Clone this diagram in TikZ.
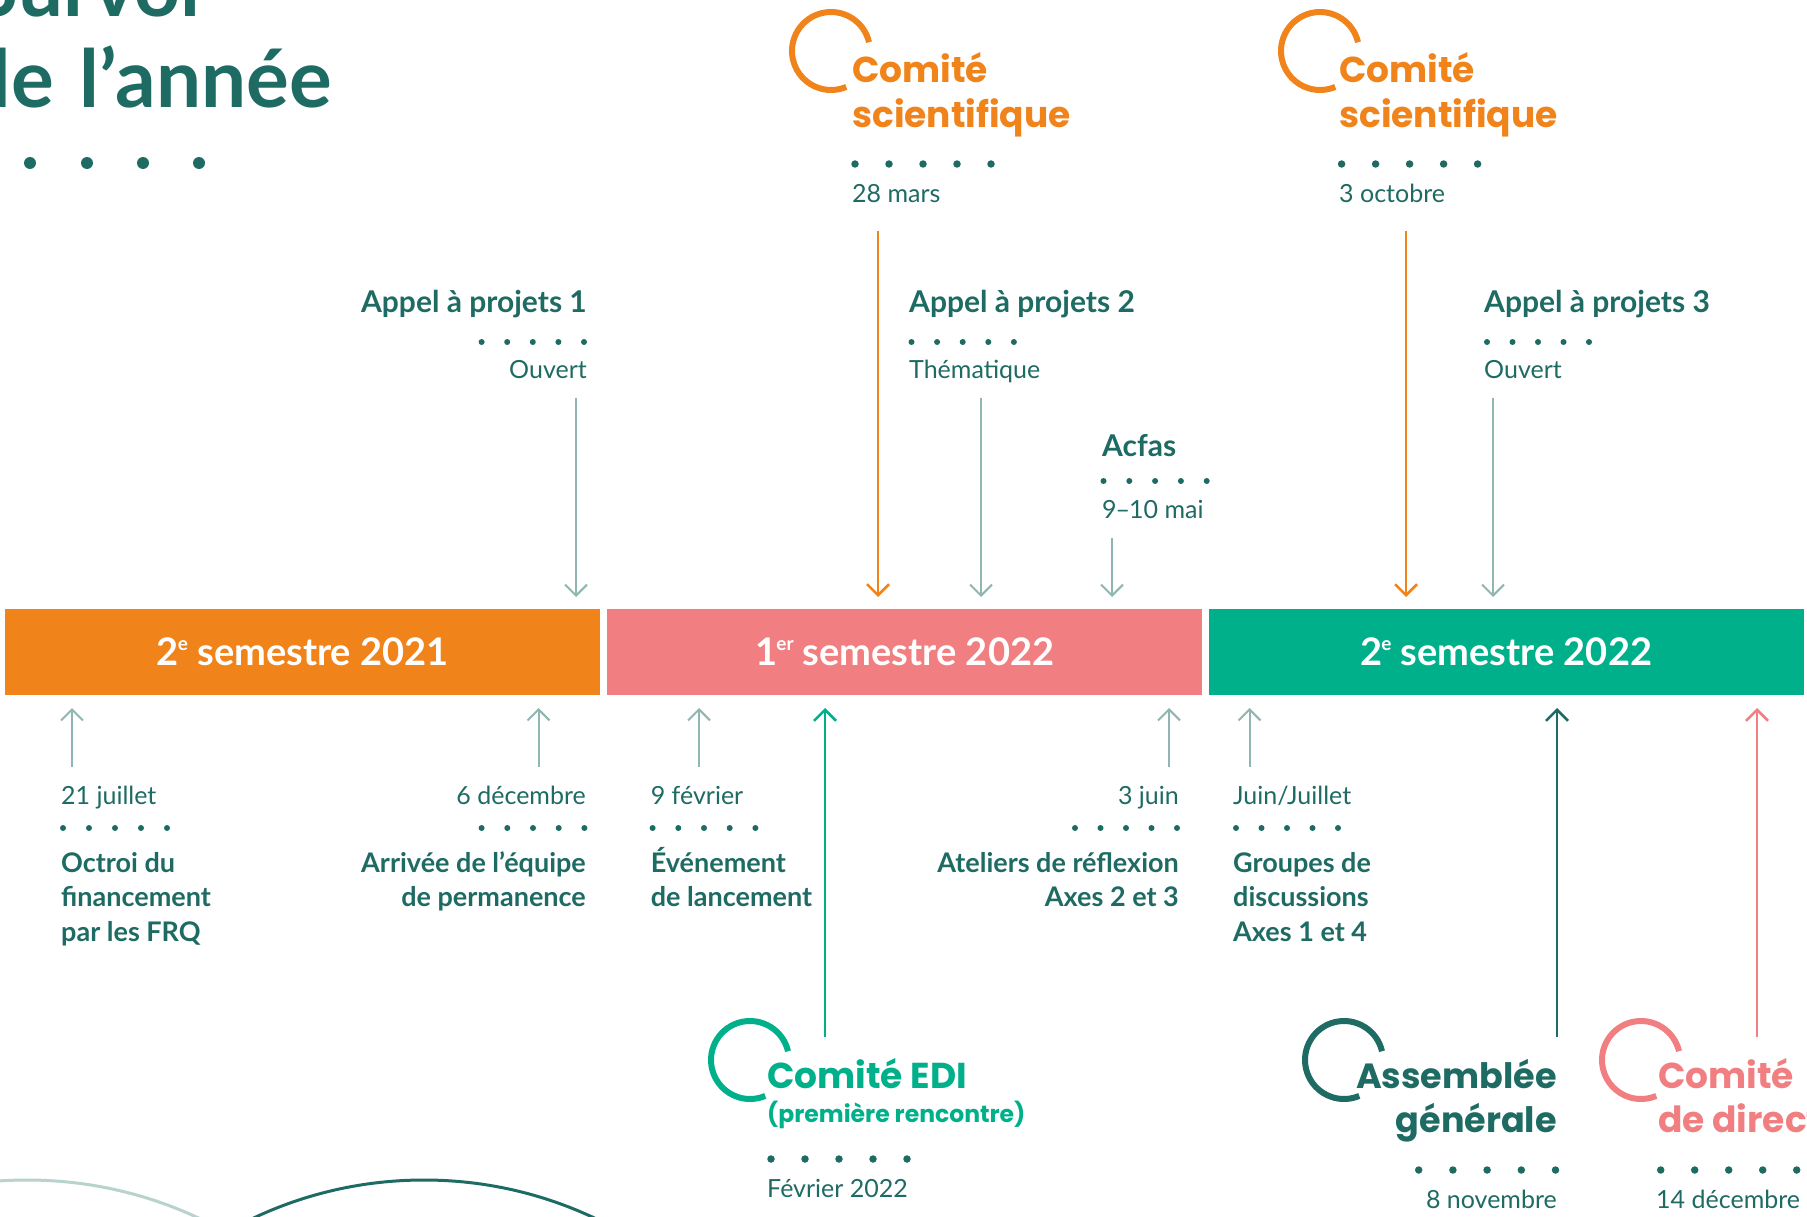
\documentclass[tikz,border=0pt]{standalone}
\usepackage{fontspec}
\setmainfont{Lato}
\newfontfamily\popfont{Poppins}
\usetikzlibrary{arrows.meta}
\definecolor{tealD}{HTML}{1E6B64}
\definecolor{orangeC}{HTML}{F0831A}
\definecolor{pinkC}{HTML}{F17F81}
\definecolor{greenC}{HTML}{00B08A}
\definecolor{greyA}{HTML}{8FB6B1}
\definecolor{greyL}{HTML}{B8D2CE}
\newcommand\mysup[1]{\kern-1pt\raisebox{15pt}{\fontsize{19}{19}\selectfont #1}}
\tikzset{
  toplbl/.style={font=\fontsize{30}{36}\selectfont\bfseries, text=tealD, inner sep=0pt},
  boldlbl/.style={font=\fontsize{27}{34.6}\selectfont\bfseries, text=tealD, inner sep=0pt},
  datelbl/.style={font=\fontsize{25}{30}\selectfont, text=tealD, inner sep=0pt},
  comlbl/.style={font=\popfont\fontsize{36}{44.5}\selectfont\bfseries, inner sep=0pt},
  titlelbl/.style={font=\fontsize{80}{91}\selectfont\bfseries, text=tealD, inner sep=0pt},
  bandbox/.style={rectangle, inner sep=0pt, minimum height=86pt, text=white, font=\fontsize{38}{44}\selectfont\bfseries},
  sdot/.style={circle, fill=tealD, inner sep=0pt, minimum size=6pt},
  bdot/.style={circle, fill=tealD, inner sep=0pt, minimum size=7.5pt},
  ring/.style={line width=6pt},
  greyarrow/.style={draw=greyA, line width=2pt, -{Straight Barb[length=11pt,width=22pt,line width=2pt]}},
  colarrow/.style={line width=2.5pt, -{Straight Barb[length=11pt,width=22pt,line width=2.5pt]}},
}
\begin{document}
\begin{tikzpicture}[x=1pt,y=-1pt]
\useasboundingbox (0,0) rectangle (1807,1217);
\clip (0,0) rectangle (1807,1217);
\fill[white] (0,0) rectangle (1807,1217);

% bottom decorative arcs
\draw[greyL, line width=3pt] (27,1585) circle[radius=405];
\draw[tealD, line width=3pt] (424,1580) circle[radius=400];

% title
\node[titlelbl, anchor=base east] (title1) at (200,17) {Survol};
\node[titlelbl, anchor=base east] (title2) at (332,108) {de\hspace{26pt}l’année};
\foreach \i/\xx in {0/30,1/87,2/143,3/199} \node[circle, fill=tealD, inner sep=0pt, minimum size=12pt] (td\i) at (\xx,163) {};

% semester bands
\node[bandbox, fill=orangeC, minimum width=595pt, anchor=north west] (band1) at (5,609) {2\mysup{e} semestre 2021};
\node[bandbox, fill=pinkC, minimum width=595pt, anchor=north west] (band2) at (607,609) {1\mysup{er} semestre 2022};
\node[bandbox, fill=greenC, minimum width=595pt, anchor=north west] (band3) at (1208.5,609) {2\mysup{e} semestre 2022};

% ---- Appel a projets 1
\node[toplbl, anchor=base east] (ap1) at (587,312) {Appel à projets 1};
\foreach \i in {0,...,4} \node[sdot] (ap1d\i) at ({584-25.6*\i},342) {};
\node[datelbl, anchor=base east] (ap1o) at (587,378) {Ouvert};
\coordinate (ap1s) at (576,398);
\coordinate (ap1t) at (576,597);
\draw[greyarrow] (ap1s) -- (ap1t);

% ---- Appel a projets 2
\node[toplbl, anchor=base west] (ap2) at (909,312) {Appel à projets 2};
\foreach \i in {0,...,4} \node[sdot] (ap2d\i) at ({911.5+25.6*\i},342) {};
\node[datelbl, anchor=base west] (ap2o) at (909,378) {Thématique};
\coordinate (ap2s) at (981,398);
\coordinate (ap2t) at (981,597);
\draw[greyarrow] (ap2s) -- (ap2t);

% ---- Acfas
\node[toplbl, anchor=base west] (acf) at (1102,456) {Acfas};
\foreach \i in {0,...,4} \node[sdot] (acfd\i) at ({1103.5+25.8*\i},481) {};
\node[datelbl, anchor=base west] (acfo) at (1102,518) {9\kern-1pt–\kern-1pt10 mai};
\coordinate (acfs) at (1112,538);
\coordinate (acft) at (1112,597);
\draw[greyarrow] (acfs) -- (acft);

% ---- Appel a projets 3
\node[toplbl, anchor=base west] (ap3) at (1484,312) {Appel à projets 3};
\foreach \i in {0,...,4} \node[sdot] (ap3d\i) at ({1487+25.5*\i},342) {};
\node[datelbl, anchor=base west] (ap3o) at (1484,378) {Ouvert};
\coordinate (ap3s) at (1493,398);
\coordinate (ap3t) at (1493,597);
\draw[greyarrow] (ap3s) -- (ap3t);

% ---- Comite scientifique 1
\draw[orangeC, ring] (831,51) ++(-13:39) arc[start angle=-13, end angle=-293, radius=39];
\node[comlbl, text=orangeC, anchor=base west, align=left] (cs1) at (852,127.5) {Comité\\scientifique};
\foreach \i in {0,...,4} \node[bdot] (cs1d\i) at ({855+34*\i},164) {};
\node[datelbl, anchor=base west] (cs1o) at (852,203) {28 mars};
\coordinate (cs1s) at (878,231);
\coordinate (cs1t) at (878,597);
\draw[colarrow, orangeC] (cs1s) -- (cs1t);

% ---- Comite scientifique 2
\draw[orangeC, ring] (1320,51) ++(-13:39) arc[start angle=-13, end angle=-293, radius=39];
\node[comlbl, text=orangeC, anchor=base west, align=left] (cs2) at (1339,127.5) {Comité\\scientifique};
\foreach \i in {0,...,4} \node[bdot] (cs2d\i) at ({1341.6+34*\i},164) {};
\node[datelbl, anchor=base west] (cs2o) at (1339,203) {3 octobre};
\coordinate (cs2s) at (1406,231);
\coordinate (cs2t) at (1406,597);
\draw[colarrow, orangeC] (cs2s) -- (cs2t);

% ---- bottom small events
\foreach \n/\xx in {jul/72,dec/538.5,fev/699,jun/1169,jj/1249.5}{
  \coordinate (\n s) at (\xx,767);
  \coordinate (\n t) at (\xx,708);
  \draw[greyarrow] (\n s) -- (\n t);
}
\node[datelbl, anchor=base west] (julo) at (61,804) {21 juillet};
\foreach \i in {0,...,4} \node[sdot] (juld\i) at ({63+26*\i},828) {};
\node[boldlbl, anchor=base west, align=left] (jult) at (61,941.2) {Octroi du\\financement\\par les FRQ};

\node[datelbl, anchor=base east] (deco) at (586,804) {6 décembre};
\foreach \i in {0,...,4} \node[sdot] (decd\i) at ({584.4-25.7*\i},828) {};
\node[boldlbl, anchor=base east, align=right] (dect) at (586,906.6) {Arrivée de l’équipe\\de permanence};

\node[datelbl, anchor=base west] (fevo) at (650.6,804) {9 février};
\foreach \i in {0,...,4} \node[sdot] (fevd\i) at ({652.6+25.7*\i},828) {};
\node[boldlbl, anchor=base west, align=left] (fevt) at (650.6,906.6) {Événement\\de lancement};

\node[datelbl, anchor=base east] (juno) at (1179,804) {3 juin};
\foreach \i in {0,...,4} \node[sdot] (jund\i) at ({1177-25.5*\i},828) {};
\node[boldlbl, anchor=base east, align=right] (junt) at (1179,906.6) {Ateliers de réflexion\\Axes 2 et 3};

\node[datelbl, anchor=base west] (jjo) at (1233,804) {Juin/Juillet};
\foreach \i in {0,...,4} \node[sdot] (jjd\i) at ({1236+25.5*\i},828) {};
\node[boldlbl, anchor=base west, align=left] (jjt) at (1233,941.2) {Groupes de\\discussions\\Axes 1 et 4};

% ---- Comite EDI
\draw[greenC, ring] (750,1060) ++(-13:39) arc[start angle=-13, end angle=-293, radius=39];
\node[comlbl, text=greenC, anchor=base west] (edi) at (767,1088) {Comité EDI};
\node[font=\popfont\fontsize{23.5}{28}\selectfont\bfseries, text=greenC, anchor=base west, inner sep=0pt] (edi2) at (767,1122) {(première rencontre)};
\foreach \i in {0,...,4} \node[bdot] (edid\i) at ({771+34*\i},1159) {};
\node[datelbl, anchor=base west] (edio) at (767,1197) {Février 2022};
\coordinate (edis) at (825,1037);
\coordinate (edit) at (825,708);
\draw[colarrow, greenC] (edis) -- (edit);

% ---- Assemblee generale
\draw[tealD, ring] (1344,1060) ++(-13:39) arc[start angle=-13, end angle=-293, radius=39];
\node[comlbl, font=\popfont\fontsize{35}{44.5}\selectfont\bfseries, text=tealD, anchor=base east, align=right] (ag) at (1557,1132.5) {Assemblée\\générale};
\foreach \i in {0,...,4} \node[bdot] (agd\i) at ({1555.5-34.2*\i},1170) {};
\node[datelbl, anchor=base east] (ago) at (1557,1208) {8 novembre};
\coordinate (ags) at (1557,1037);
\coordinate (agt) at (1557,708);
\draw[colarrow, tealD] (ags) -- (agt);

% ---- Comite de direction
\draw[pinkC, ring] (1641,1060) ++(-13:39) arc[start angle=-13, end angle=-293, radius=39];
\node[comlbl, text=pinkC, anchor=base west, align=left] (cd) at (1658,1132.5) {Comité\\de direction};
\foreach \i in {0,...,4} \node[bdot] (cdd\i) at ({1660.7+34*\i},1170) {};
\node[datelbl, anchor=base west] (cdo) at (1656,1208) {14 décembre};
\coordinate (cds) at (1757,1037);
\coordinate (cdt) at (1757,708);
\draw[colarrow, pinkC] (cds) -- (cdt);
\end{tikzpicture}
\end{document}
